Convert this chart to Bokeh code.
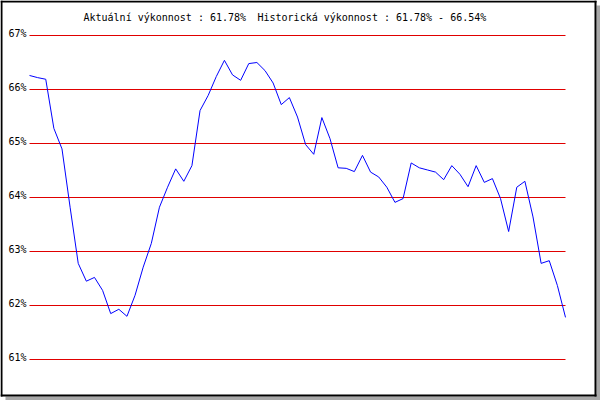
from bokeh.plotting import figure
from bokeh.models import Range1d
from bokeh.core.properties import value
from bokeh.embed import file_html
from bokeh.resources import INLINE

# ---- data ----
performance = [
    66.26, 66.22, 66.19, 65.28, 64.90, 63.82, 62.78, 62.45, 62.52, 62.28,
    61.85, 61.93, 61.80, 62.19, 62.71, 63.15, 63.82, 64.19, 64.53, 64.30,
    64.59, 65.61, 65.89, 66.24, 66.54, 66.27, 66.17, 66.48, 66.50, 66.35,
    66.12, 65.72, 65.85, 65.49, 64.98, 64.80, 65.48, 65.09, 64.55, 64.54,
    64.48, 64.78, 64.47, 64.38, 64.19, 63.91, 63.98, 64.64, 64.55, 64.51,
    64.47, 64.33, 64.59, 64.43, 64.20, 64.59, 64.28, 64.35, 63.98, 63.37,
    64.19, 64.30, 63.64, 62.78, 62.83, 62.37, 61.78,
]
index = list(range(len(performance)))
tick_values = [61, 62, 63, 64, 65, 66, 67]
tick_labels = ["61%", "62%", "63%", "64%", "65%", "66%", "67%"]
current = performance[-1]
title_left = f"Aktuální výkonnost : {current:.2f}%"
title_right = (f"Historická výkonnost : {min(performance):.2f}% - "
               f"{max(performance):.2f}%")

# ---- layout (canvas pixels) ----
W, H = 600, 400
GX0, GX1 = 29.0, 565.0          # horizontal extent of grid / line
PX_PER_X = (GX1 - GX0) / (len(performance) - 1)
PX_PER_Y = 54.0
TOP_VAL_PX = 35.0               # canvas y of the top tick value

def dx(c):
    return (c - GX0) / PX_PER_X

def dy(c):
    return tick_values[-1] - (c - TOP_VAL_PX) / PX_PER_Y

FONT = value("DejaVu Sans Mono")

p = figure(width=W, height=H, output_backend="svg", toolbar_location=None,
           x_axis_type=None, y_axis_type=None, min_border=0,
           x_range=Range1d(dx(0), dx(W)), y_range=Range1d(dy(H), dy(0)),
           background_fill_color="white", border_fill_color="white",
           outline_line_color=None)
p.grid.visible = False

# shadow
p.quad(left=[dx(596), dx(5)], right=[dx(600), dx(600)],
       top=[dy(5), dy(396)], bottom=[dy(400), dy(400)],
       fill_color="#a8a8a8", line_color=None)
# frame
p.quad(left=[dx(0), dx(0), dx(594), dx(0)],
       right=[dx(596), dx(2), dx(596), dx(596)],
       top=[dy(0), dy(0), dy(0), dy(394)],
       bottom=[dy(2), dy(396), dy(396), dy(396)],
       fill_color="black", line_color=None)

# grid lines
p.segment(x0=[index[0]] * len(tick_values), x1=[index[-1]] * len(tick_values),
          y0=tick_values, y1=tick_values, line_color="#e00000", line_width=1)

# tick labels
p.text(x=[dx(26)] * len(tick_values), y=tick_values, text=tick_labels,
       text_align="right", text_baseline="alphabetic", y_offset=-2,
       text_font=FONT, text_font_size="10px", text_color="black")

# title
p.text(x=[dx(83), dx(83 + 29 * 6)], y=[dy(17), dy(17)],
       text=[title_left, title_right],
       text_align="left", text_baseline="alphabetic",
       text_font=FONT, text_font_size="10px", text_color="black")

# series
p.line(x=index, y=performance, line_color="#0000ff", line_width=1)

open("out.html", "w").write(file_html(p, INLINE))
